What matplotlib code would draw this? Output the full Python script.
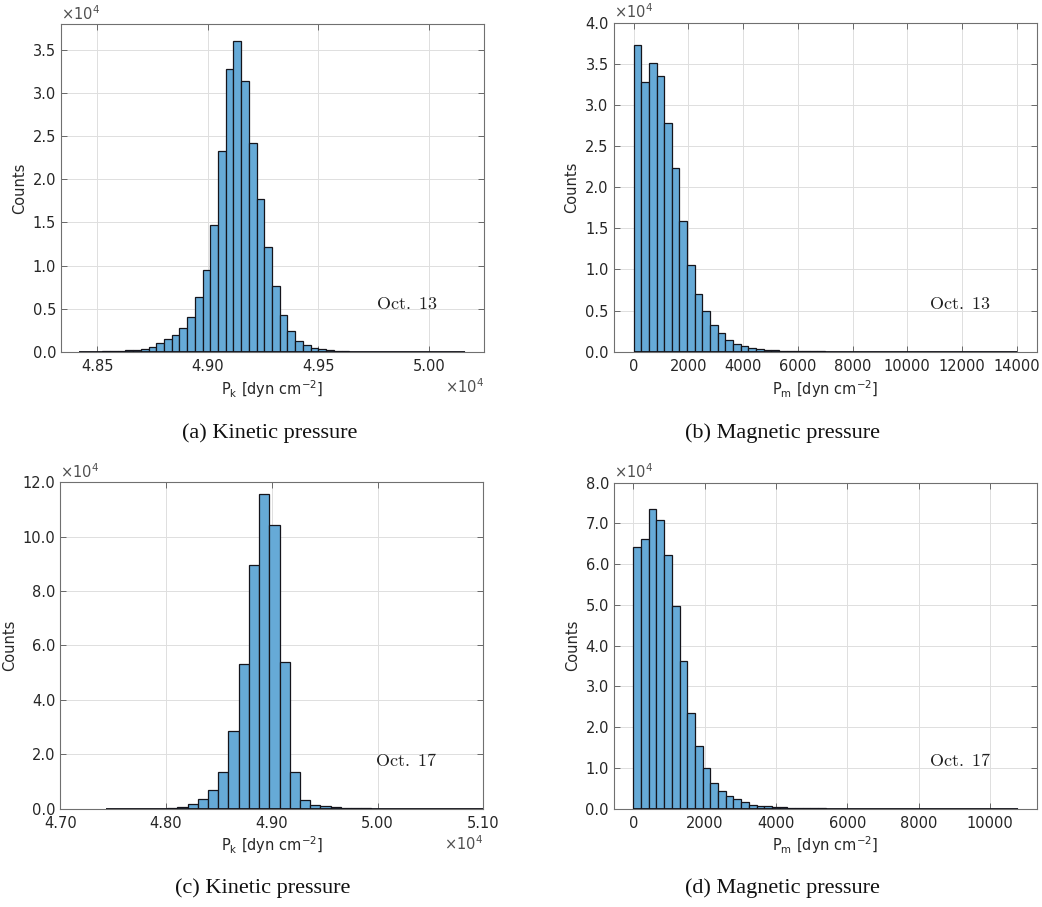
"""
  Histograms of kinetic and magnetic pressure, Oct. 13 and Oct. 17.
"""

import numpy as np
import matplotlib
matplotlib.use('Agg')
import matplotlib.pyplot as plt
from matplotlib.ticker import FuncFormatter, FixedLocator

# ---- data (counts per bin) ----
pk13_range = (48418, 50163)
pk13_counts = [10, 20, 30, 50, 80, 100, 200, 220, 350, 600,
               1000, 1500, 1950, 2750, 4000, 6350, 9450, 14700, 23300, 32800,
               36050, 31400, 24200, 17700, 12150, 7650, 4250, 2400, 1250, 750,
               430, 340, 180, 90, 50, 40, 30, 25, 20, 15,
               12, 10, 8, 6, 5, 4, 3, 3, 2, 2]

pm13_range = (0, 14000)
pm13_counts = [37350, 32750, 35150, 33550, 27850, 22350, 15850, 10600, 7000, 4950,
               3250, 2300, 1400, 980, 670, 470, 320, 260, 180, 130,
               90, 70, 50, 40, 30, 25, 20, 15, 12, 10,
               8, 7, 6, 5, 4, 4, 3, 3, 3, 2,
               2, 2, 2, 1, 1, 1, 1, 1, 1, 1]

pk17_range = (47432, 51002.5)
pk17_counts = [5, 8, 10, 15, 25, 60, 150, 700, 1700, 3400,
               6700, 13400, 28400, 53100, 89500, 115700, 104300, 53800, 13400, 3100,
               1200, 900, 500, 400, 150, 80, 50, 30, 20, 15,
               10, 8, 6, 5, 4, 3, 2]

pm17_range = (0, 10800)
pm17_counts = [64300, 66100, 73500, 70800, 62200, 49700, 36300, 23600, 15300, 9900,
               6400, 4300, 3000, 2300, 1550, 1000, 750, 600, 500, 300,
               250, 120, 90, 70, 50, 40, 30, 25, 20, 15,
               12, 10, 8, 7, 6, 5, 4, 3, 3, 2,
               2, 2, 2, 1, 1, 1, 1, 1, 1, 1]

pk13_xticks = [48500, 49000, 49500, 50000]
pk17_xticks = [47000, 48000, 49000, 50000, 51000]
pm13_xticks = [0, 2000, 4000, 6000, 8000, 10000, 12000, 14000]
pm17_xticks = [0, 2000, 4000, 6000, 8000, 10000]

captions = ['(a) Kinetic pressure', '(b) Magnetic pressure',
            '(c) Kinetic pressure', '(d) Magnetic pressure']
dates = ['13', '13', '17', '17']

# ---- style ----
face = '#66aad7'
edge = '#15151c'
tcol = '#262626'
plt.rcParams['font.family'] = 'sans-serif'
plt.rcParams['font.sans-serif'] = ['DejaVu Sans']
plt.rcParams['mathtext.fontset'] = 'dejavusans'
plt.rcParams['font.size'] = 10.5

fig = plt.figure(figsize=(10.42, 9.07), dpi=100)

panels = [
    dict(rect=[0.0585, 0.612, 0.406, 0.3616], rng=pk13_range, counts=pk13_counts,
         xlim=(48336, 50249), ylim=(0, 3.8e4), yticks=np.arange(0, 3.51e4, 0.5e4),
         xticks=pk13_xticks, xscale=True, xlab=r'P$_\mathrm{k}$ [dyn cm$^{-2}$]',
         cap=(0.259, 0.5226)),
    dict(rect=[0.5888, 0.6122, 0.4064, 0.3627], rng=pm13_range, counts=pm13_counts,
         xlim=(-730, 14740), ylim=(0, 4.0e4), yticks=np.arange(0, 4.01e4, 0.5e4),
         xticks=pm13_xticks, xscale=False, xlab=r'P$_\mathrm{m}$ [dyn cm$^{-2}$]',
         cap=(0.751, 0.5226)),
    dict(rect=[0.0579, 0.1084, 0.406, 0.3599], rng=pk17_range, counts=pk17_counts,
         xlim=(47000, 51000), ylim=(0, 12e4), yticks=np.arange(0, 12.01e4, 2e4),
         xticks=pk17_xticks, xscale=True, xlab=r'P$_\mathrm{k}$ [dyn cm$^{-2}$]',
         cap=(0.252, 0.0209)),
    dict(rect=[0.589, 0.1084, 0.4064, 0.3594], rng=pm17_range, counts=pm17_counts,
         xlim=(-551, 11327), ylim=(0, 8e4), yticks=np.arange(0, 8.01e4, 1e4),
         xticks=pm17_xticks, xscale=False, xlab=r'P$_\mathrm{m}$ [dyn cm$^{-2}$]',
         cap=(0.751, 0.0209)),
]

for i, p in enumerate(panels):
    ax = fig.add_axes(p['rect'])
    counts = np.asarray(p['counts'], dtype=float)
    edges = np.linspace(p['rng'][0], p['rng'][1], len(counts) + 1)
    ax.hist(edges[:-1], bins=edges, weights=counts, facecolor=face,
            edgecolor=edge, linewidth=0.9, zorder=3)
    # near-empty bins collapse onto the baseline as a dark line
    ax.hlines(0, edges[0], edges[-1], color=edge, linewidth=1.3, zorder=4,
              clip_on=True)

    ax.set_xlim(*p['xlim'])
    ax.set_ylim(*p['ylim'])
    ax.yaxis.set_major_locator(FixedLocator(p['yticks']))
    ax.xaxis.set_major_locator(FixedLocator(p['xticks']))
    ax.yaxis.set_major_formatter(FuncFormatter(lambda v, pos: '%.1f' % (v / 1e4)))
    if p['xscale']:
        ax.xaxis.set_major_formatter(FuncFormatter(lambda v, pos: '%.2f' % (v / 1e4)))
        ax.text(1.0, -0.107, r'$\times10^{4}$', transform=ax.transAxes,
                ha='right', va='center', fontsize=10.5, color='#505050')
    else:
        ax.xaxis.set_major_formatter(FuncFormatter(lambda v, pos: '%d' % v))
    ax.text(0.0, 1.004, r'$\times10^{4}$', transform=ax.transAxes,
            ha='left', va='bottom', fontsize=10.5, color='#505050')

    # matlab-like box and grid
    ax.grid(True, color='#dedede', linewidth=0.7, zorder=0)
    ax.set_axisbelow(True)
    ax.tick_params(direction='in', top=True, right=True, length=4,
                   width=0.6, colors='#555555', labelsize=10.5, labelcolor=tcol)
    ax.tick_params(axis='x', pad=5)
    for s in ax.spines.values():
        s.set_color('#707070')
        s.set_linewidth(0.8)

    ax.set_ylabel('Counts', fontsize=10.5, color=tcol, labelpad=4)
    ax.set_xlabel(p['xlab'], fontsize=10.5, color=tcol, labelpad=3)

    ax.text(0.818, 0.145, r'$\mathrm{Oct.\ %s}$' % dates[i],
            transform=ax.transAxes, ha='center', va='center', fontsize=13,
            color='#202020', math_fontfamily='cm')

    # caption below each panel
    fig.text(p['cap'][0], p['cap'][1], captions[i], ha='center', va='center',
             fontsize=16, family='Liberation Serif', color='#111111')

fig.savefig('out.png', dpi=100)
